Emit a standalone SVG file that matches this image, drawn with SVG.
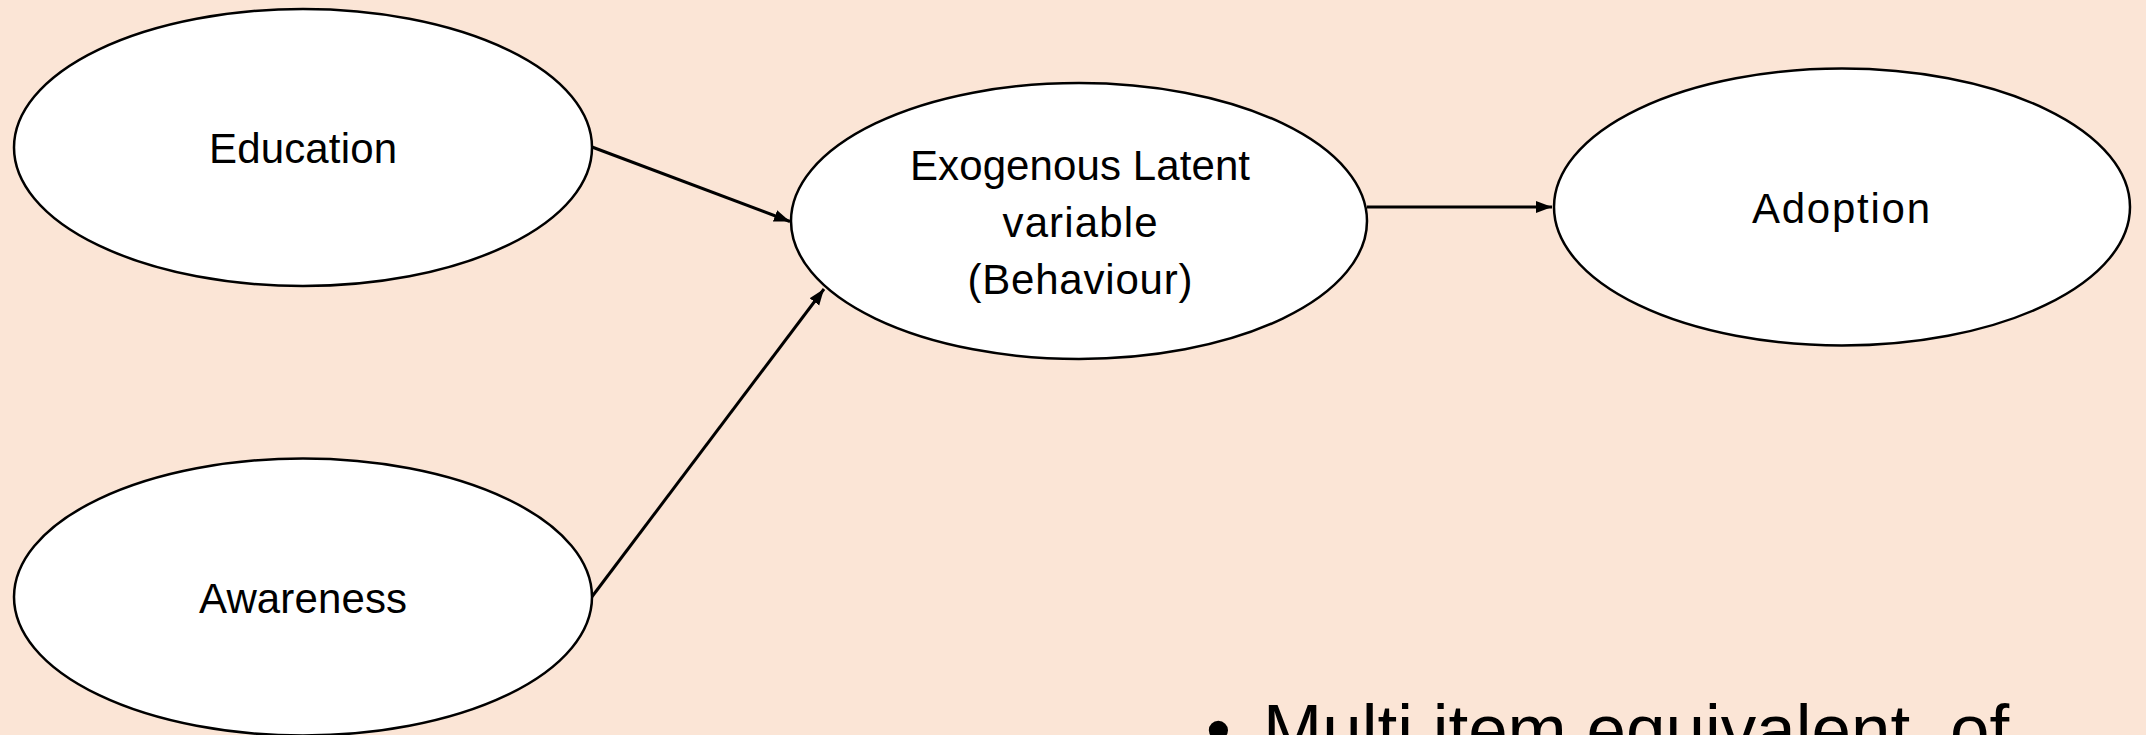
<svg xmlns="http://www.w3.org/2000/svg" width="2146" height="735" viewBox="0 0 2146 735">
  <style>
    .node { fill: #ffffff; stroke: #000000; stroke-width: 2.5; }
    .label { font-family: "Liberation Sans", Arial, sans-serif; font-size: 42px; fill: #000000; text-anchor: middle; }
    .edge { stroke: #000000; stroke-width: 3; fill: none; marker-end: url(#arrow); }
    .bullet { font-family: "Liberation Sans", Arial, sans-serif; font-size: 71px; fill: #000000; }
  </style>
  <defs>
    <marker id="arrow" markerUnits="userSpaceOnUse" markerWidth="18" markerHeight="14" refX="16" refY="6" orient="auto">
      <path d="M0,0 L16,6 L0,12 Z" fill="#000000"/>
    </marker>
  </defs>

  <rect x="0" y="0" width="2146" height="735" fill="#FBE5D6"/>

  <g id="connectors">
    <path class="edge" d="M592,147 L790,221.5"/>
    <path class="edge" d="M591,598 L824,289"/>
    <path class="edge" d="M1367,207 L1552,207"/>
  </g>

  <g id="node-education">
    <ellipse class="node" cx="303" cy="147.5" rx="289" ry="138.5"/>
    <text class="label" x="303" y="163" textLength="188">Education</text>
  </g>

  <g id="node-awareness">
    <ellipse class="node" cx="303" cy="597" rx="289" ry="138.5"/>
    <text class="label" x="303" y="613" textLength="208">Awareness</text>
  </g>

  <g id="node-behaviour">
    <ellipse class="node" cx="1079" cy="221" rx="288" ry="138"/>
    <text class="label" x="1080" y="180" textLength="340">Exogenous Latent</text>
    <text class="label" x="1080" y="237" textLength="155">variable</text>
    <text class="label" x="1080" y="294" textLength="225">(Behaviour)</text>
  </g>

  <g id="node-adoption">
    <ellipse class="node" cx="1842" cy="207" rx="288" ry="138.5"/>
    <text class="label" x="1841" y="223" textLength="178">Adoption</text>
  </g>

  <g id="note">
    <text class="bullet" y="754"><tspan x="1206">•</tspan><tspan x="1263">Multi item equivalent</tspan><tspan x="1950">of</tspan></text>
  </g>
</svg>
